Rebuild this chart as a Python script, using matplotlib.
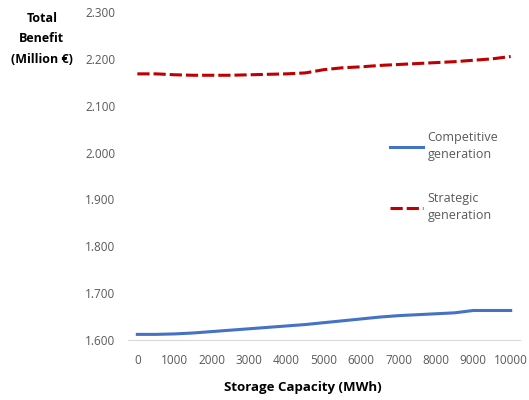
import matplotlib
matplotlib.use('Agg')
import matplotlib.pyplot as plt

# storage capacity categories (MWh)
capacity = list(range(0, 10001, 500))

competitive = [1.612, 1.612, 1.613, 1.615, 1.618, 1.621, 1.624, 1.627, 1.630, 1.633,
               1.637, 1.641, 1.645, 1.649, 1.652, 1.654, 1.656, 1.658, 1.663, 1.663, 1.663]
strategic = [2.168, 2.168, 2.166, 2.165, 2.165, 2.165, 2.166, 2.167, 2.168, 2.170,
             2.177, 2.181, 2.183, 2.186, 2.188, 2.190, 2.192, 2.194, 2.197, 2.200, 2.205]

y_ticks = [1.6, 1.7, 1.8, 1.9, 2.0, 2.1, 2.2, 2.3]

plt.rcParams['font.family'] = ['Open Sans', 'DejaVu Sans']

fig = plt.figure(figsize=(5.29, 4), dpi=100)
ax = fig.add_axes([128 / 529, 0.15, 392 / 529, 0.82])

x = range(len(capacity))
ax.plot(x, competitive, color='#4472c4', lw=2.2, label='Competitive\ngeneration')
ax.plot(x, strategic, color='#c00000', lw=2.2, ls=(0, (4, 1.3)), label='Strategic\ngeneration')

ax.set_xlim(-0.5, len(capacity) - 0.5)
ax.set_ylim(1.6, 2.3)
ax.set_yticks(y_ticks)
ax.set_yticklabels([f'{v:.3f}' for v in y_ticks], color='#595959', fontsize=8.5)
ax.set_xticks(list(x)[::2])
ax.set_xticklabels([str(c) for c in capacity[::2]], color='#595959', fontsize=8.5)
ax.tick_params(axis='y', length=0, pad=9)
ax.tick_params(axis='x', length=0, pad=10)

for s in ['top', 'right', 'left']:
    ax.spines[s].set_visible(False)
ax.spines['bottom'].set_color('#d9d9d9')

ax.set_xlabel('Storage Capacity (MWh)', fontsize=9.5, fontweight='bold')
ax.xaxis.set_label_coords((303 - 128) / 392, -0.125)
fig.text(0.079, 0.97, 'Total\nBenefit\n(Million €)', ha='center', va='top',
         fontsize=9, fontweight='bold', linespacing=1.75)

leg = ax.legend(loc='upper left', bbox_to_anchor=(0.64, 0.67), frameon=False,
                fontsize=9, handlelength=2.6, handletextpad=0.4, labelspacing=2.5,
                labelcolor='#595959')
for t in leg.get_texts():
    t.set_linespacing(1.35)

fig.savefig('out.png', dpi=100)
